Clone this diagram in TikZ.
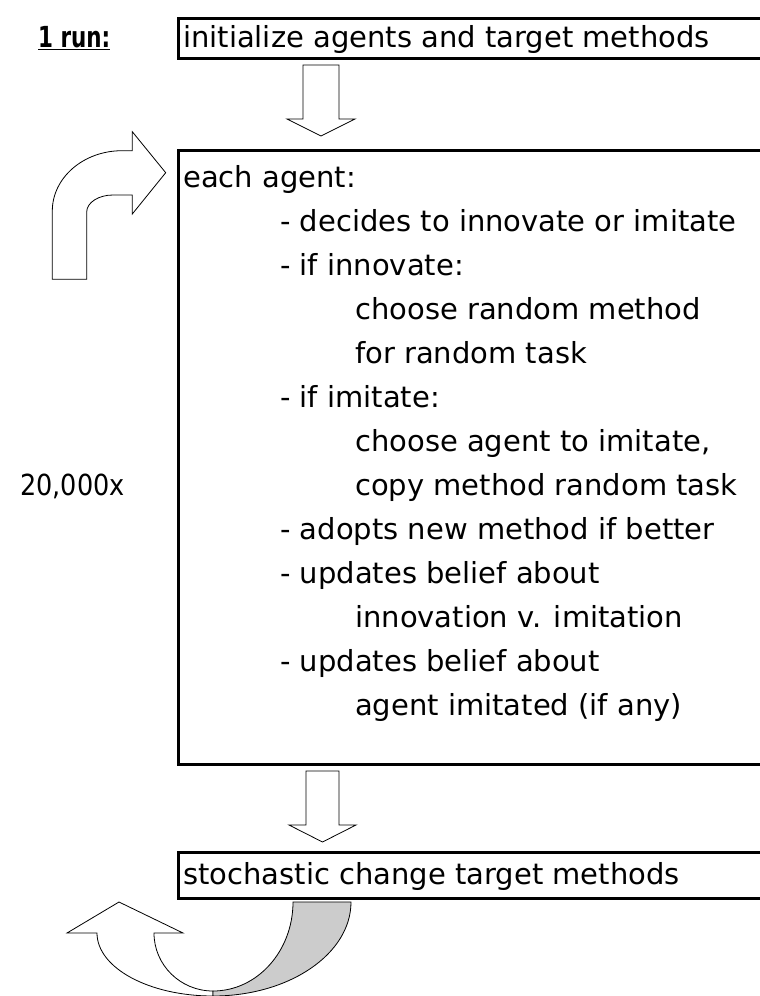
\documentclass[tikz,border=0pt]{standalone}
\usepackage{fontspec}
\setmainfont{DejaVu Sans}
\usetikzlibrary{calc}
\begin{document}
\begin{tikzpicture}[x=1pt,y=-1pt,
  every node/.style={inner sep=0pt},
  txt/.style={anchor=base west,font=\fontsize{29}{33}\selectfont},
  frame/.style={draw,line width=3pt,anchor=north west,minimum width=590pt},
  blockarrow/.style={draw,line width=0.8pt,fill=white,line join=miter},
  foldside/.style={draw,line width=0.8pt,fill=black!20}]
\useasboundingbox (0,0) rectangle (760,996);

% the three boxes
\node[frame,minimum height=40pt] (init) at (177,17) {};
\node[frame,minimum height=614pt] (loop) at (177,149) {};
\node[frame,minimum height=46pt] (change) at (177,851) {};

% side labels
\node[txt] (run) at (38,47) {\scalebox{0.74}[1]{\underline{\textbf{1 run:}}}};
\node[txt] (count) at (20,495) {\scalebox{0.88}[1]{20,000x}};

% box texts
\node[txt] (tinit) at (183,47) {initialize agents and target methods};
\node[txt] (tchange) at (183,884) {stochastic change target methods};

\node[txt] (l1) at (183,187) {each agent:};
\node[txt] (l2) at (280,231) {- decides to innovate or imitate};
\node[txt] (l3) at (280,275) {- if innovate:};
\node[txt] (l4) at (355,319) {choose random method};
\node[txt] (l5) at (355,363) {for random task};
\node[txt] (l6) at (280,407) {- if imitate:};
\node[txt] (l7) at (355,451) {choose agent to imitate,};
\node[txt] (l8) at (355,495) {copy method random task};
\node[txt] (l9) at (280,539) {- adopts new method if better};
\node[txt] (l10) at (280,583) {- updates belief about};
\node[txt] (l11) at (355,627) {innovation v. imitation};
\node[txt] (l12) at (280,671) {- updates belief about};
\node[txt] (l13) at (355,715) {agent imitated (if any)};

% block arrow from the first box down into the loop box
\draw[blockarrow] (303,65) -- (339,65) -- (339,119) -- (355,119) -- (321,136)
  -- (287,119) -- (303,119) -- cycle;
% block arrow from the loop box down to the last box
\draw[blockarrow] (306,771) -- (339,771) -- (339,825) -- (356,825) -- (322.5,842)
  -- (289,825) -- (306,825) -- cycle;

% bent arrow pointing back into the loop box
\draw[blockarrow] (52.3,279.3) -- (52.3,211)
  arc[start angle=180,end angle=90,x radius=69.7,y radius=-60.3]
  -- (132.3,150.7) -- (132.3,131.7) -- (165.7,172.7) -- (132.3,214) -- (132.3,195)
  -- (113,195)
  arc[start angle=90,end angle=180,x radius=26.3,y radius=-17]
  -- (86.7,279.3) -- cycle;

% curved arrow leaving the last box: white front band with head
\draw[blockarrow] (213,996)
  arc[start angle=270,end angle=180,x radius=116,y radius=-63]
  -- (67,933) -- (119,902) -- (183,933) -- (154,933)
  arc[start angle=180,end angle=270,x radius=59,y radius=-58]
  -- cycle;
% shaded back band running from the box down to the bottom
\draw[foldside] (293,902) -- (351,902)
  arc[start angle=0,end angle=-90,x radius=138,y radius=-94]
  -- (213,991)
  arc[start angle=-90,end angle=0,x radius=80,y radius=-89]
  -- cycle;
\end{tikzpicture}
\end{document}
